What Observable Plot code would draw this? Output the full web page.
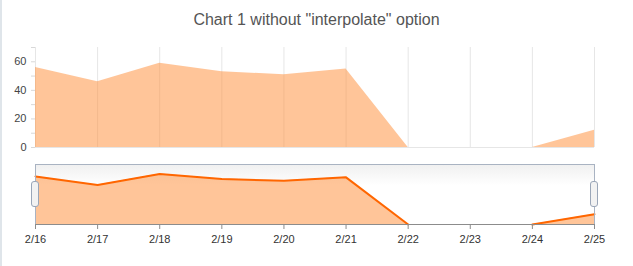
<!DOCTYPE html>
<html>
<head>
<meta charset="utf-8">
<script src="https://cdn.jsdelivr.net/npm/d3@7"></script>
<script src="https://cdn.jsdelivr.net/npm/@observablehq/plot@0.6"></script>
<style>
  html, body { margin: 0; padding: 0; background: #fff; }
  #wrap { position: relative; width: 633px; height: 266px; font-family: "Liberation Sans", Arial, sans-serif; overflow: hidden; }
  #border { position: absolute; left: 0; top: 0; width: 2px; height: 266px; background: #dfe5ea; }
  #title { position: absolute; left: 0; top: 10px; width: 633px; text-align: center; font-size: 16px; color: #555; line-height: 20px; }
  #top, #nav { position: absolute; left: 0; }
  #top { top: 0; }
  #nav { top: 150px; }
</style>
</head>
<body>
<div id="wrap">
  <div id="border"></div>
  <div id="title">Chart 1 without "interpolate" option</div>
  <div id="top"></div>
  <div id="nav"></div>
</div>
<script>
const categories = ["2/16", "2/17", "2/18", "2/19", "2/20", "2/21", "2/22", "2/23", "2/24", "2/25"];
const values = [56, 46, 59, 53, 51, 55, 0, null, 0, 12];
const yTicks = [0, 10, 20, 30, 40, 50, 60, 70];
const yLabels = [0, 20, 40, 60];

const parse = d3.utcParse("%Y/%m/%d");
const dates = categories.map(c => parse("2017/" + c));
const data = categories.map((c, i) => ({date: dates[i], value: values[i]}));
const fmt = d => `${d.getUTCMonth() + 1}/${d.getUTCDate()}`;
const xDomain = [dates[0], dates[dates.length - 1]];

const topChart = Plot.plot({
  width: 633,
  height: 160,
  marginLeft: 35,
  marginRight: 39,
  marginTop: 47,
  marginBottom: 13,
  style: {fontFamily: '"Liberation Sans", Arial, sans-serif', fontSize: "11px", background: "transparent"},
  x: {type: "utc", domain: xDomain, axis: null},
  y: {domain: [0, 70], axis: null},
  marks: [
    Plot.ruleX(dates, {x: d => d, y1: 0, y2: 70, stroke: "#e6e6e6", strokeWidth: 1}),
    Plot.areaY(data, {x: "date", y1: 0, y2: "value", fill: "#ff8b33", fillOpacity: 0.5}),
    Plot.ruleY([0], {stroke: "#e6e6e6"}),
    Plot.axisY({ticks: yTicks, tickSize: 4, tickPadding: 5, stroke: "#d8d8d8", fill: "#444", label: null,
      tickFormat: d => yLabels.includes(d) ? String(d) : ""})
  ]
});
document.getElementById("top").appendChild(topChart);

const defs = () => {
  const s = d3.create("svg:defs");
  const g = s.append("linearGradient").attr("id", "navgrad").attr("x1", 0).attr("x2", 0).attr("y1", 0).attr("y2", 1);
  g.append("stop").attr("offset", "0%").attr("stop-color", "#f0f0f0");
  g.append("stop").attr("offset", "35%").attr("stop-color", "#ffffff");
  g.append("stop").attr("offset", "100%").attr("stop-color", "#ffffff");
  return s.node();
};

const handles = (index, scales, values, dims) => {
  const g = d3.create("svg:g");
  const ymid = (scales.y(0) + scales.y(70)) / 2;
  for (const d of xDomain) {
    const x = scales.x(d);
    g.append("rect")
      .attr("x", x - 3.5).attr("y", ymid - 12.5)
      .attr("width", 7).attr("height", 25)
      .attr("rx", 2.5)
      .attr("fill", "#f2f2f2").attr("stroke", "#9aa6b8").attr("stroke-width", 1);
  }
  return g.node();
};

const navChart = Plot.plot({
  width: 633,
  height: 116,
  marginLeft: 35,
  marginRight: 39,
  marginTop: 14,
  marginBottom: 42,
  style: {fontFamily: '"Liberation Sans", Arial, sans-serif', fontSize: "11px", background: "transparent"},
  x: {type: "utc", domain: xDomain, axis: null},
  y: {domain: [0, 70], axis: null},
  marks: [
    defs,
    Plot.frame({fill: "url(#navgrad)", stroke: "none"}),
    Plot.areaY(data, {x: "date", y1: 0, y2: "value", fill: "#ff8b33", fillOpacity: 0.5}),
    Plot.lineY(data, {x: "date", y: "value", stroke: "#ff6600", strokeWidth: 2}),
    Plot.frame({stroke: "#a9b3c2", fill: "none"}),
    Plot.ruleY([0], {stroke: "#8c8c8c"}),
    Plot.axisX({ticks: dates, tickFormat: fmt, tickSize: 5, tickPadding: 6, stroke: "#8c8c8c", fill: "#333", label: null}),
    handles
  ]
});
document.getElementById("nav").appendChild(navChart);
</script>
</body>
</html>
